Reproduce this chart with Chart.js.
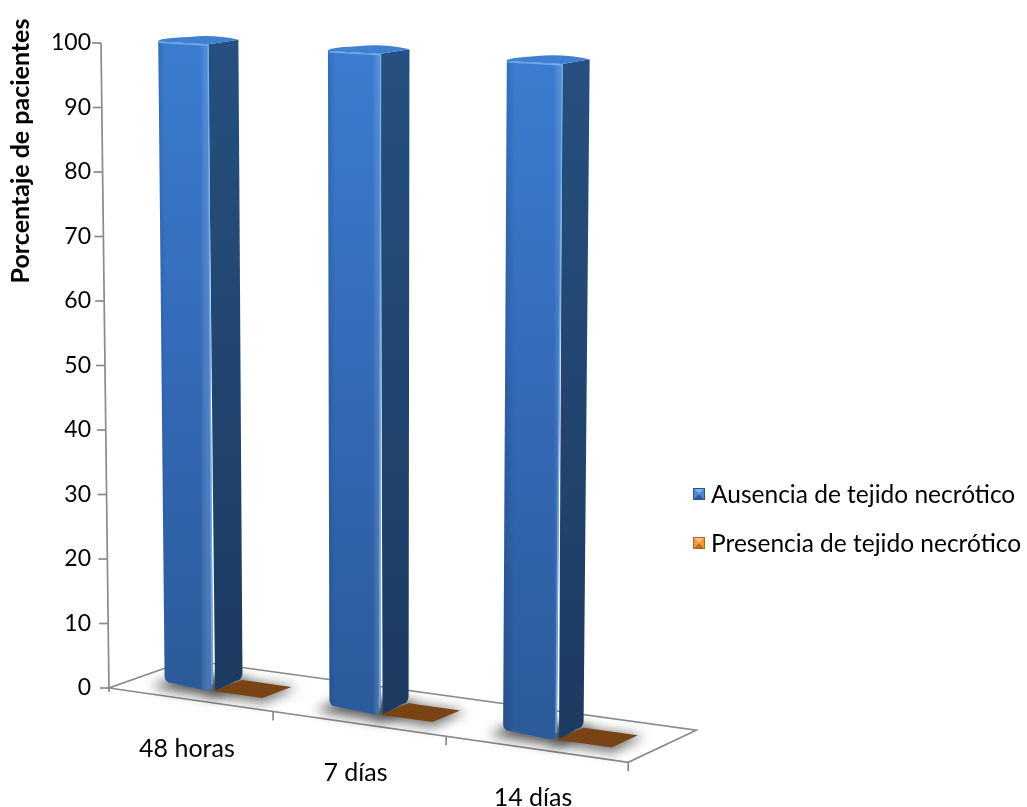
<!DOCTYPE html>
<html>
<head>
<meta charset="utf-8">
<script src="https://cdn.jsdelivr.net/npm/chart.js@4.4.1/dist/chart.umd.min.js"></script>
<style>
  html, body { margin: 0; padding: 0; background: #ffffff; }
  #wrap { width: 1027px; height: 807px; position: relative; }
  canvas { display: block; }
</style>
</head>
<body>
<div id="wrap"><canvas id="chart" width="1027" height="807"></canvas></div>
<script>
// ---- data ----
const categories = ['48 horas', '7 días', '14 días'];
const ausencia = [100, 100, 100];
const presencia = [0, 0, 0];
const seriesNames = ['Ausencia de tejido necrótico', 'Presencia de tejido necrótico'];
const yTickValues = [0, 10, 20, 30, 40, 50, 60, 70, 80, 90, 100];
const yTitle = 'Porcentaje de pacientes';

const FONT = 'Lato, "Open Sans", "Noto Sans", sans-serif';
const AXIS_GREY = '#8a8a8a';

// ---- perspective view built on top of the chart area ----
function makeView(chart) {
  const a = chart.chartArea;
  const xs = chart.scales.x;
  const cw = (xs.right - xs.left) / categories.length;
  const ox = a.left + 8, oy = a.bottom, H0 = a.bottom - a.top;
  const n = categories.length;
  const frontX = u => ox + cw * (0.91 * u + 0.0257 * u * u);
  const spanX = frontX(n) - ox;
  function floorPt(u, d) {
    const xf = frontX(u);
    const yf = oy + 0.143 * (xf - ox);
    const g = (xf - ox) / spanX;
    const dx = 79 - 11 * g, dy = -28 - 4 * g;
    return [xf + d * dx, yf + d * dy];
  }
  function project(u, d, t) {
    const p = floorPt(u, d);
    const H = H0 * (1 + 0.00092 * (p[1] - oy));
    const lean = (p[0] - (ox + 270)) * 0.0296;
    return [p[0] + lean * t, p[1] - H * t];
  }
  const toU = px => (px - xs.left) / cw;
  return { project, toU, n, a };
}

function poly(ctx, pts) {
  ctx.beginPath();
  ctx.moveTo(pts[0][0], pts[0][1]);
  for (let i = 1; i < pts.length; i++) ctx.lineTo(pts[i][0], pts[i][1]);
  ctx.closePath();
}

function drawFloor(ctx, v) {
  const P = v.project;
  const corners = [P(0, 0, 0), P(v.n, 0, 0), P(v.n, 1, 0), P(0, 1, 0)];
  ctx.save();
  poly(ctx, corners);
  ctx.fillStyle = '#ffffff';
  ctx.fill();
  ctx.strokeStyle = AXIS_GREY;
  ctx.lineWidth = 1.7;
  ctx.stroke();
  // category tick marks along the front edge
  for (let i = 1; i <= v.n; i++) {
    const p = P(i, 0, 0);
    ctx.beginPath();
    ctx.moveTo(p[0], p[1]);
    ctx.lineTo(p[0], p[1] + 9);
    ctx.stroke();
  }
  ctx.restore();
}

function drawValueAxis(ctx, v, ys) {
  const P = v.project;
  const span = ys.bottom - ys.top;
  ctx.save();
  ctx.strokeStyle = AXIS_GREY;
  ctx.lineWidth = 1.7;
  const b = P(0, 0, 0), t = P(0, 0, 1);
  ctx.beginPath();
  ctx.moveTo(b[0], b[1] + 4);
  ctx.lineTo(t[0], t[1]);
  ctx.stroke();
  yTickValues.forEach(val => {
    const frac = (ys.bottom - ys.getPixelForValue(val)) / span;
    const p = P(0, 0, frac);
    ctx.beginPath();
    ctx.moveTo(p[0] - 9, p[1]);
    ctx.lineTo(p[0], p[1]);
    ctx.stroke();
  });
  ctx.restore();
}

function barBox(v, el, ys) {
  const u0 = v.toU(el.x - el.width / 2), u1 = v.toU(el.x + el.width / 2);
  const t = (el.base - el.y) / (ys.bottom - ys.top);
  const d0 = 0.3, d1 = 0.68, P = v.project;
  return {
    t,
    FBL: P(u0, d0, 0), FBR: P(u1, d0, 0), BBR: P(u1, d1, 0), BBL: P(u0, d1, 0),
    FTL: P(u0, d0, t), FTR: P(u1, d0, t), BTR: P(u1, d1, t), BTL: P(u0, d1, t)
  };
}

function drawShadow(ctx, box, strength, grow) {
  ctx.save();
  ctx.filter = 'blur(6px)';
  ctx.fillStyle = 'rgba(30,30,30,' + strength + ')';
  const s = [box.FBL, box.FBR, box.BBR, box.BBL].map(p => [p[0] - 2, p[1] + 2]);
  const c = [(s[0][0] + s[2][0]) / 2, (s[0][1] + s[2][1]) / 2];
  poly(ctx, s.map(p => [c[0] + (p[0] - c[0]) * grow, c[1] + (p[1] - c[1]) * (grow + 0.15)]));
  ctx.fill();
  ctx.restore();
}

function drawColumn(ctx, box) {
  const r = 7;
  ctx.save();
  // right side face
  let g = ctx.createLinearGradient(0, box.BTR[1], 0, box.FBR[1]);
  g.addColorStop(0, '#26507f');
  g.addColorStop(1, '#1d3a60');
  ctx.beginPath();
  ctx.moveTo(box.FTR[0], box.FTR[1]);
  ctx.lineTo(box.BTR[0], box.BTR[1]);
  ctx.lineTo(box.BBR[0], box.BBR[1] - r);
  ctx.quadraticCurveTo(box.BBR[0], box.BBR[1], box.BBR[0] - r, box.BBR[1] + 1);
  ctx.lineTo(box.FBR[0] + 2, box.FBR[1]);
  ctx.closePath();
  ctx.fillStyle = g;
  ctx.fill();
  // front face
  g = ctx.createLinearGradient(0, box.FTL[1], 0, box.FBL[1]);
  g.addColorStop(0, '#3b7dd0');
  g.addColorStop(0.55, '#3468b4');
  g.addColorStop(1, '#2c5b9b');
  ctx.beginPath();
  ctx.moveTo(box.FTL[0], box.FTL[1]);
  ctx.lineTo(box.FTR[0], box.FTR[1]);
  ctx.lineTo(box.FBR[0], box.FBR[1] - r);
  ctx.quadraticCurveTo(box.FBR[0], box.FBR[1], box.FBR[0] - r, box.FBR[1] - 0.5);
  ctx.lineTo(box.FBL[0] + r, box.FBL[1] - 1);
  ctx.quadraticCurveTo(box.FBL[0], box.FBL[1] - 1.5, box.FBL[0], box.FBL[1] - r - 1);
  ctx.closePath();
  ctx.fillStyle = g;
  ctx.fill();
  // soft shading near the edges of the front face
  const hg = ctx.createLinearGradient(box.FTL[0], 0, box.FTR[0], 0);
  hg.addColorStop(0, 'rgba(20,40,80,0.18)');
  hg.addColorStop(0.15, 'rgba(20,40,80,0)');
  hg.addColorStop(0.85, 'rgba(255,255,255,0)');
  hg.addColorStop(1, 'rgba(140,190,245,0.28)');
  ctx.fillStyle = hg;
  ctx.fill();
  // top face, slightly domed
  ctx.beginPath();
  ctx.moveTo(box.FTL[0], box.FTL[1]);
  ctx.lineTo(box.FTR[0], box.FTR[1]);
  ctx.lineTo(box.BTR[0], box.BTR[1]);
  ctx.quadraticCurveTo((box.BTR[0] + box.BTL[0]) / 2, box.BTL[1] - 3, box.BTL[0], box.BTL[1]);
  ctx.quadraticCurveTo(box.FTL[0] - 1, box.FTL[1] - 3, box.FTL[0], box.FTL[1]);
  ctx.closePath();
  ctx.fillStyle = '#3f80d2';
  ctx.fill();
  // bevel highlights
  ctx.strokeStyle = 'rgba(120,175,235,0.9)';
  ctx.lineWidth = 1.4;
  ctx.beginPath();
  ctx.moveTo(box.FTL[0] + 1, box.FTL[1] + 1);
  ctx.lineTo(box.FTR[0], box.FTR[1] + 1);
  ctx.lineTo(box.FBR[0] - 1, box.FBR[1] - r);
  ctx.stroke();
  ctx.restore();
}

function drawTile(ctx, box) {
  ctx.save();
  poly(ctx, [box.FBL, box.FBR, box.BBR, box.BBL]);
  ctx.fillStyle = '#7a4313';
  ctx.fill();
  ctx.restore();
}

function bevelSquare(ctx, x, y, s, c) {
  const cx = x + s / 2, cy = y + s / 2;
  ctx.save();
  poly(ctx, [[x, y], [x + s, y], [x + s, y + s], [x, y + s]]);
  ctx.fillStyle = c.mid; ctx.fill();
  poly(ctx, [[x, y], [x + s, y], [cx, cy]]); ctx.fillStyle = c.top; ctx.fill();
  poly(ctx, [[x, y + s], [x + s, y + s], [cx, cy]]); ctx.fillStyle = c.bottom; ctx.fill();
  poly(ctx, [[x, y], [x, y + s], [cx, cy]]); ctx.fillStyle = c.side; ctx.fill();
  poly(ctx, [[x + s, y], [x + s, y + s], [cx, cy]]); ctx.fillStyle = c.side; ctx.fill();
  ctx.strokeStyle = c.edge; ctx.lineWidth = 1;
  ctx.strokeRect(x + 0.5, y + 0.5, s - 1, s - 1);
  ctx.restore();
}

const legendSwatches = [
  { top: '#7fb0ea', side: '#4f88d0', bottom: '#2d5b98', mid: '#4f88d0', edge: '#2a5690' },
  { top: '#fbc27a', side: '#ef9a3c', bottom: '#c46d1c', mid: '#ef9a3c', edge: '#b5651a' }
];

const scene3d = {
  id: 'scene3d',
  beforeDatasetsDraw(chart) {
    const ctx = chart.ctx, ys = chart.scales.y;
    const v = makeView(chart);
    drawFloor(ctx, v);
    drawValueAxis(ctx, v, ys);
    const blue = chart.getDatasetMeta(0).data;
    const brown = chart.getDatasetMeta(1).data;
    for (let i = 0; i < categories.length; i++) {
      const b1 = barBox(v, blue[i], ys);
      const b2 = barBox(v, brown[i], ys);
      drawShadow(ctx, b1, 0.75, 1.3);
      drawShadow(ctx, b2, 0.6, 1.2);
      drawColumn(ctx, b1);
      drawTile(ctx, b2);
    }
    return false;
  },
  afterDraw(chart) {
    const ctx = chart.ctx, xs = chart.scales.x;
    const v = makeView(chart);
    ctx.save();
    // category labels under the slanted front edge
    ctx.font = '25px ' + FONT;
    ctx.fillStyle = '#000000';
    ctx.textAlign = 'center';
    ctx.textBaseline = 'middle';
    categories.forEach((c, i) => {
      const u = v.toU(xs.getPixelForValue(i));
      const p = v.project(u, 0, 0);
      ctx.fillText(c, p[0] - 3, p[1] + 49);
    });
    // legend
    ctx.textAlign = 'left';
    ctx.font = '24.5px ' + FONT;
    seriesNames.forEach((name, i) => {
      const y = 494 + i * 49;
      bevelSquare(ctx, 693, y - 6, 12, legendSwatches[i]);
      ctx.fillStyle = '#000000';
      ctx.fillText(name, 711, y + 1);
    });
    // value axis title
    ctx.translate(21, 151);
    ctx.rotate(-Math.PI / 2);
    ctx.textAlign = 'center';
    ctx.font = 'bold 25px ' + FONT;
    ctx.fillText(yTitle, 0, 0);
    ctx.restore();
  }
};

new Chart(document.getElementById('chart'), {
  type: 'bar',
  data: {
    labels: categories,
    datasets: [
      { label: seriesNames[0], data: ausencia, backgroundColor: '#3b7dd0',
        categoryPercentage: 0.6, barPercentage: 1 },
      { label: seriesNames[1], data: presencia, backgroundColor: '#7a4313',
        categoryPercentage: 0.6, barPercentage: 1 }
    ]
  },
  options: {
    responsive: false,
    animation: false,
    events: [],
    layout: { padding: { top: 43, bottom: 119, left: 0, right: 400 } },
    plugins: { legend: { display: false }, tooltip: { enabled: false } },
    scales: {
      x: { display: false, offset: true },
      y: {
        min: 0, max: 100,
        afterFit(scale) { scale.width = 101; },
        afterBuildTicks(scale) { scale.ticks = yTickValues.map(v => ({ value: v })); },
        grid: { display: false, drawTicks: false },
        border: { display: false },
        ticks: { padding: 10, color: '#000000', font: { family: FONT, size: 23 } }
      }
    }
  },
  plugins: [scene3d]
});
</script>
</body>
</html>
